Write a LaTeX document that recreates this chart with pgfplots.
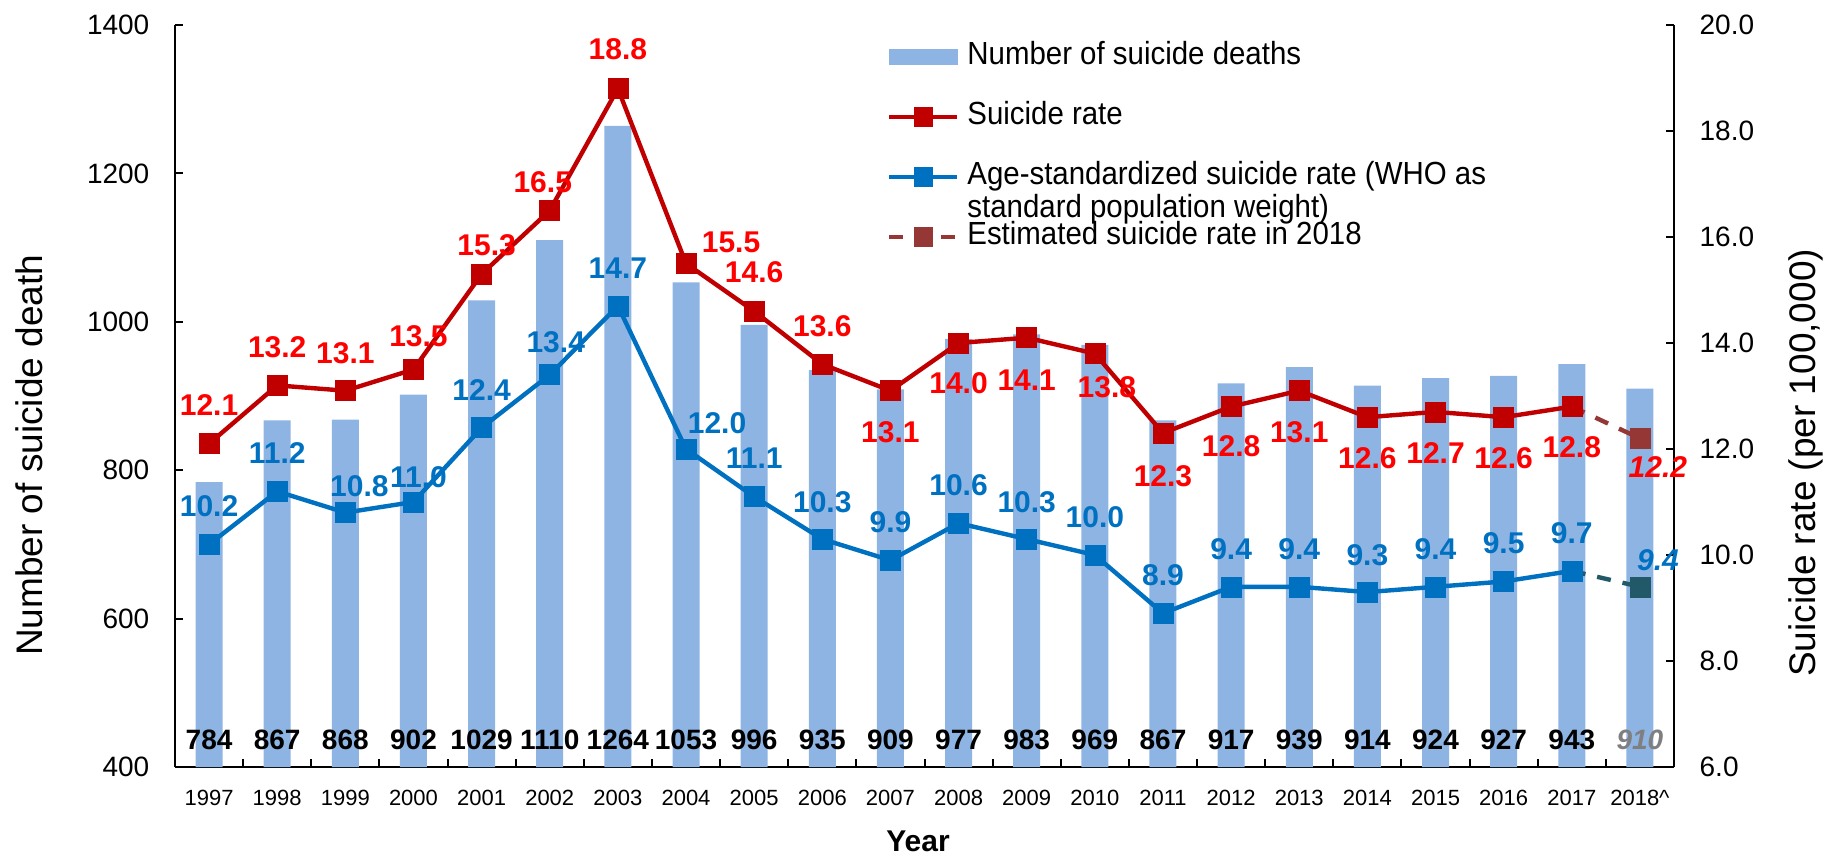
\documentclass[border=0pt]{standalone}
\usepackage{fontspec}
\setmainfont{Liberation Sans}
\newfontfamily\legfont[FakeStretch=0.92]{Liberation Sans}
\usepackage{pgfplots}
\usepackage{pgfplotstable}
\pgfplotsset{compat=1.18}

\definecolor{barblue}{HTML}{8EB4E3}
\definecolor{linered}{HTML}{C00000}
\definecolor{labred}{HTML}{FF0000}
\definecolor{lineblue}{HTML}{0070C0}
\definecolor{estred}{HTML}{953735}
\definecolor{estblue}{HTML}{215968}
\definecolor{labgray}{HTML}{7F7F7F}

\pgfplotstableread{
x n ly
0 784 436
1 867 436
2 868 436
3 902 436
4 1029 436
5 1110 436
6 1264 436
7 1053 436
8 996 436
9 935 436
10 909 436
11 977 436
12 983 436
13 969 436
14 867 436
15 917 436
16 939 436
17 914 436
18 924 436
19 927 436
20 943 436
21 910 436
}\bartab

\pgfplotstableread{
x y lab dx dy
0 12.1 12.1 0 19.5
1 13.2 13.2 0 19
2 13.1 13.1 0 19
3 13.5 13.5 2.5 16.5
4 15.3 15.3 2.5 14.5
5 16.5 16.5 -3.5 14
6 18.8 18.8 0 19.5
7 15.5 15.5 22.5 10.5
8 14.6 14.6 0 19.5
9 13.6 13.6 0 19
10 13.1 13.1 0 -20.5
11 14.0 14.0 0 -20
12 14.1 14.1 0 -21
13 13.8 13.8 6 -17
14 12.3 12.3 0 -21.5
15 12.8 12.8 0 -20
16 13.1 13.1 0 -20.5
17 12.6 12.6 0 -20.5
18 12.7 12.7 0 -20.5
19 12.6 12.6 0 -20.5
20 12.8 12.8 0 -20.5
}\ratetab

\pgfplotstableread{
x y lab dx dy
0 10.2 10.2 0 19
1 11.2 11.2 0 19
2 10.8 10.8 7 13
3 11.0 11.0 2.5 12.5
4 12.4 12.4 0 19
5 13.4 13.4 3 16.5
6 14.7 14.7 0 19
7 12.0 12.0 15.5 13
8 11.1 11.1 0 19.5
9 10.3 10.3 0 18.5
10 9.9 9.9 0 19
11 10.6 10.6 0 19
12 10.3 10.3 0 18.5
13 10.0 10.0 0 19
14 8.9 8.9 0 19
15 9.4 9.4 0 19
16 9.4 9.4 0 19
17 9.3 9.3 0 18.5
18 9.4 9.4 0 19
19 9.5 9.5 0 19
20 9.7 9.7 0 19
}\agetab

\begin{document}
\begin{tikzpicture}
\path[use as bounding box] (-87.5pt,-45.5pt) rectangle (826.5pt,383.5pt);
\begin{axis}[
  at={(0pt,0pt)}, anchor=south west, scale only axis,
  width=749.5pt, height=371pt,
  xmin=-0.5, xmax=21.5, ymin=400, ymax=1400,
  axis y line*=left, axis x line*=bottom,
  axis line style={-, line width=1.2pt, black},
  tick align=inside, major tick length=4pt, minor tick length=4pt,
  every tick/.style={black, line width=1pt},
  ytick={400,600,...,1400},
  xtick={0,...,21},
  xticklabels={1997,1998,1999,2000,2001,2002,2003,2004,2005,2006,2007,2008,2009,2010,2011,2012,2013,2014,2015,2016,2017,2018\textasciicircum},
  major x tick style={draw=none},
  minor xtick={0.5,1.5,...,20.5},
  /pgf/number format/assume math mode=true,
  /pgf/number format/1000 sep={},
  yticklabel style={font=\fontsize{14}{16}\selectfont, xshift=-9.3pt},
  xticklabel style={font=\fontsize{11}{13}\selectfont, yshift=-7.8pt},
  ylabel={Number of suicide death},
  ylabel style={font=\fontsize{18.5}{20}\selectfont, at={(axis description cs:-0.0974,0.42)}, anchor=center},
  xlabel={\bfseries Year},
  xlabel style={font=\fontsize{15}{17}\selectfont, at={(axis description cs:0.4957,-0.1)}, anchor=center},
]
\addplot[ybar, bar width=13.5pt, fill=barblue, draw=none] table[x=x,y=n]{\bartab};
\addplot[draw=none, mark=none, nodes near coords, point meta=explicit symbolic,
  skip coords between index={21}{22},
  nodes near coords style={font=\fontsize{14}{16}\selectfont\bfseries, anchor=center, text=black}]
  table[x=x,y=ly,meta=n]{\bartab};
\addplot[draw=none, mark=none, nodes near coords, point meta=explicit symbolic,
  nodes near coords style={font=\fontsize{14}{16}\selectfont\bfseries\itshape, anchor=center, text=labgray}]
  coordinates {(21,436) [910]};
\end{axis}

\begin{axis}[
  at={(0pt,0pt)}, anchor=south west, scale only axis,
  width=749.5pt, height=371pt,
  xmin=-0.5, xmax=21.5, ymin=6, ymax=20,
  axis y line*=right, axis x line=none,
  axis line style={-, line width=1.2pt, black},
  tick align=inside, major tick length=4pt,
  every tick/.style={black, line width=1pt},
  xtick=\empty,
  ytick={6,8,...,20},
  /pgf/number format/assume math mode=true,
  yticklabel style={font=\fontsize{14}{16}\selectfont, xshift=9.3pt, /pgf/number format/.cd, fixed, fixed zerofill, precision=1},
  ylabel={Suicide rate (per 100,000)},
  ylabel style={font=\fontsize{18.5}{20}\selectfont, at={(axis description cs:1.088,0.41)}, anchor=center},
  legend cell align=left,
  legend style={at={(axis description cs:0.4747,0.979)}, anchor=north west, draw=none, fill=none,
    font=\fontsize{16}{16.3}\legfont, row sep=14pt, inner sep=0pt, column sep=3pt,
    nodes={inner sep=1pt, text height=11pt, text depth=3pt}},
  legend image code/.code={\draw[#1, mark repeat=2, mark phase=2] plot coordinates {(0pt,0pt) (17pt,0pt) (34pt,0pt)};},
]
\addlegendimage{legend image code/.code={\fill[barblue] (0pt,-3.75pt) rectangle (34pt,3.75pt);}}
\addlegendentry{Number of suicide deaths}
\addlegendimage{linered, line width=2.2pt, mark=square*, mark size=4.6pt, mark options={solid, line width=0.3pt}}
\addlegendentry{Suicide rate}
\addlegendimage{lineblue, line width=2.2pt, mark=square*, mark size=4.6pt, mark options={solid, line width=0.3pt}}
\addlegendentry{\smash{\begin{tabular}[t]{@{}l@{}}Age-standardized suicide rate (WHO as\\standard population weight)\end{tabular}}}
\addlegendimage{estred, line width=2.2pt, dash pattern=on 7pt off 6pt, mark=square*, mark size=4.6pt, mark options={solid, line width=0.3pt}}
\addlegendentry{Estimated suicide rate in 2018}

\addplot[estred, line width=2.2pt, dash pattern=on 7pt off 6pt, forget plot] coordinates {(20,12.8) (21,12.2)};
\addplot[estblue, line width=2.2pt, dash pattern=on 7pt off 6pt, forget plot] coordinates {(20,9.7) (21,9.4)};

\addplot[linered, line width=2.2pt, mark=square*, mark size=5pt, mark options={solid, line width=0.3pt}, forget plot,
  nodes near coords, point meta=explicit symbolic,
  visualization depends on={\thisrow{dx}\as\lbdx},
  visualization depends on={\thisrow{dy}\as\lbdy},
  nodes near coords style={font=\fontsize{15}{16}\selectfont\bfseries, text=labred, anchor=center, xshift=\lbdx pt, yshift=\lbdy pt}]
  table[x=x,y=y,meta=lab]{\ratetab};

\addplot[lineblue, line width=2.2pt, mark=square*, mark size=5pt, mark options={solid, line width=0.3pt}, forget plot,
  nodes near coords, point meta=explicit symbolic,
  visualization depends on={\thisrow{dx}\as\lbdx},
  visualization depends on={\thisrow{dy}\as\lbdy},
  nodes near coords style={font=\fontsize{15}{16}\selectfont\bfseries, text=lineblue, anchor=center, xshift=\lbdx pt, yshift=\lbdy pt}]
  table[x=x,y=y,meta=lab]{\agetab};

\addplot[estred, only marks, mark=square*, mark size=5pt, mark options={solid, line width=0.3pt}, forget plot,
  nodes near coords, point meta=explicit symbolic,
  nodes near coords style={font=\fontsize{15}{16}\selectfont\bfseries\itshape, text=labred, anchor=center, xshift=9pt, yshift=-14.5pt}]
  coordinates {(21,12.2) [12.2]};
\addplot[estblue, only marks, mark=square*, mark size=5pt, mark options={solid, line width=0.3pt}, forget plot,
  nodes near coords, point meta=explicit symbolic,
  nodes near coords style={font=\fontsize{15}{16}\selectfont\bfseries\itshape, text=lineblue, anchor=center, xshift=9pt, yshift=13.5pt}]
  coordinates {(21,9.4) [9.4]};
\end{axis}
\end{tikzpicture}
\end{document}
